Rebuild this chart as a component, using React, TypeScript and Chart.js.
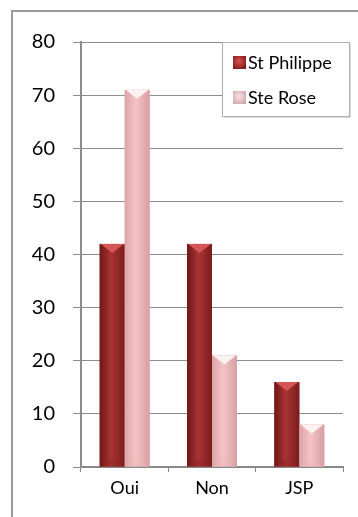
import React, { useEffect, useRef } from "react";
import { Chart, registerables } from "chart.js";

Chart.register(...registerables);

const categories = ["Oui", "Non", "JSP"];
const stPhilippe = [42, 42, 16];
const steRose = [71, 21, 8];
const seriesLabels = ["St Philippe", "Ste Rose"];
const yTicks = [0, 10, 20, 30, 40, 50, 60, 70, 80];

const FONT = "Lato, 'Open Sans', sans-serif";

const barStyles = [
  { edges: ["#6e1616", "#a93434", "#7c1c1c"], cap: "#d65656", base: "#8a2626" },
  { edges: ["#dca4a8", "#f6c4c6", "#d69ea2"], cap: "#fdf2f2", base: "#e8b6b8" },
];

const barPaintPlugin = {
  id: "barPaint",
  afterDatasetsDraw(chart: any) {
    const c = chart.ctx;
    chart.data.datasets.forEach((_: any, di: number) => {
      const meta = chart.getDatasetMeta(di);
      const st = barStyles[di];
      meta.data.forEach((bar: any) => {
        const w = bar.width;
        const x0 = bar.x - w / 2;
        const y = bar.y;
        const b = bar.base;
        c.save();
        const g = c.createLinearGradient(x0, 0, x0 + w, 0);
        g.addColorStop(0, st.edges[0]);
        g.addColorStop(0.45, st.edges[1]);
        g.addColorStop(1, st.edges[2]);
        c.fillStyle = g;
        c.fillRect(x0, y, w, b - y);
        c.beginPath();
        c.moveTo(x0 + 1, y);
        c.lineTo(x0 + w - 1, y);
        c.lineTo(bar.x, y + 9);
        c.closePath();
        c.fillStyle = st.cap;
        c.fill();
        c.beginPath();
        c.moveTo(x0 + 2, b);
        c.lineTo(x0 + w - 2, b);
        c.lineTo(bar.x, b - 8);
        c.closePath();
        c.fillStyle = st.base;
        c.globalAlpha = 0.35;
        c.fill();
        c.restore();
      });
    });
  },
};

const framePlugin = {
  id: "frame",
  beforeDraw(chart: any) {
    const c = chart.ctx;
    c.save();
    c.fillStyle = "#ffffff";
    c.fillRect(0, 0, chart.width, chart.height);
    c.strokeStyle = "#9a9a9a";
    c.lineWidth = 2;
    c.beginPath();
    c.moveTo(12, chart.height);
    c.lineTo(12, 11);
    c.lineTo(chart.width, 11);
    c.stroke();
    c.restore();
  },
  afterDraw(chart: any) {
    const c = chart.ctx;
    c.save();
    c.fillStyle = "#ffffff";
    c.fillRect(345, 120, chart.width - 345, chart.height - 120);
    c.restore();
  },
};

const legendPlugin = {
  id: "boxLegend",
  afterDraw(chart: any) {
    const c = chart.ctx;
    const x = 222, y = 42, w = 127, h = 74;
    c.save();
    c.fillStyle = "#ffffff";
    c.fillRect(x, y, w, h);
    c.strokeStyle = "#b0b0b0";
    c.lineWidth = 1;
    c.strokeRect(x + 0.5, y + 0.5, w, h);
    c.strokeStyle = "#dcdcdc";
    c.beginPath();
    c.moveTo(x + w + 1.5, y + 2);
    c.lineTo(x + w + 1.5, y + h + 1.5);
    c.lineTo(x + 2, y + h + 1.5);
    c.stroke();
    const swatches = [
      ["#7a1818", "#d04a4a"],
      ["#c9a4a8", "#f6dadc"],
    ];
    const rows = [62, 97];
    chart.data.datasets.forEach((ds: any, i: number) => {
      const sy = rows[i];
      const g = c.createRadialGradient(x + 17, sy - 1, 1, x + 17, sy, 9);
      g.addColorStop(0, swatches[i][1]);
      g.addColorStop(1, swatches[i][0]);
      c.fillStyle = g;
      c.fillRect(x + 11, sy - 6, 13, 13);
      c.fillStyle = "#000";
      c.font = `18px ${FONT}`;
      c.textBaseline = "middle";
      c.textAlign = "left";
      c.fillText(ds.label, x + 26, sy + 1);
    });
    c.restore();
  },
};

export default function App() {
  const ref = useRef<HTMLCanvasElement | null>(null);

  useEffect(() => {
    document.body.style.margin = "0";
    const canvas = ref.current;
    if (!canvas) return;
    const chart = new Chart(canvas, {
      type: "bar",
      data: {
        labels: categories,
        datasets: [
          {
            label: seriesLabels[0],
            data: stPhilippe,
            backgroundColor: "#a83232",
            borderWidth: 0,
          },
          {
            label: seriesLabels[1],
            data: steRose,
            backgroundColor: "#f2c0c2",
            borderWidth: 0,
          },
        ],
      },
      options: {
        animation: false,
        responsive: false,
        devicePixelRatio: 1,
        layout: { padding: { left: 0, top: 42, right: 15, bottom: 0 } },
        datasets: {
          bar: { categoryPercentage: 0.572, barPercentage: 1 },
        },
        plugins: {
          legend: { display: false },
          tooltip: { enabled: false },
        },
        scales: {
          x: {
            grid: {
              display: true,
              drawOnChartArea: false,
              drawTicks: true,
              tickLength: 5,
              color: "#888888",
              offset: true,
            },
            border: { color: "#888888", width: 2 },
            ticks: {
              color: "#000",
              font: { family: FONT, size: 18 },
              padding: 5,
            },
            afterFit(scale: any) {
              scale.height = 50;
            },
          },
          y: {
            min: 0,
            max: 80,
            afterBuildTicks(scale: any) {
              scale.ticks = yTicks.map((v) => ({ value: v }));
            },
            grid: {
              color: "#8c8c8c",
              lineWidth: 1,
              tickLength: 8,
            },
            border: { color: "#8c8c8c", width: 2 },
            ticks: {
              color: "#000",
              font: { family: FONT, size: 20 },
              padding: 18,
            },
            afterFit(scale: any) {
              scale.width = 81;
            },
          },
        },
      },
      plugins: [framePlugin, barPaintPlugin, legendPlugin],
    });
    return () => chart.destroy();
  }, []);

  return (
    <div style={{ position: "fixed", left: 0, top: 0, width: 358, height: 517, background: "#fff", overflow: "hidden" }}>
      <canvas ref={ref} width={358} height={517} style={{ display: "block", width: 358, height: 517 }} />
    </div>
  );
}
